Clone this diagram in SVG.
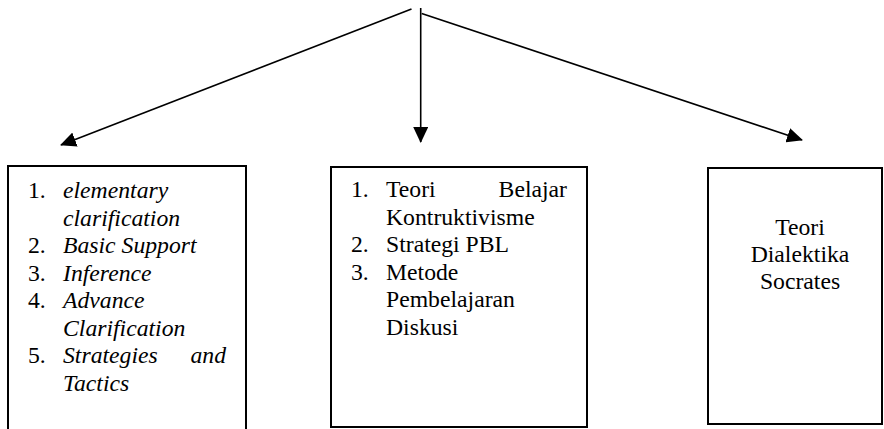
<svg xmlns="http://www.w3.org/2000/svg" width="884" height="429" viewBox="0 0 884 429">
<defs>
<style>
.box{fill:#fff;stroke:#000;stroke-width:2}
.ln{stroke:#000;stroke-width:1.6;fill:none}
text{font-family:'Liberation Serif','Times New Roman',Times,serif;font-size:23.7px;fill:#000}
.i{font-style:italic}
.c{text-anchor:middle}
</style>
<marker id="ah" markerUnits="userSpaceOnUse" markerWidth="16" markerHeight="15" refX="15" refY="7.5" orient="auto">
<path d="M0,0 L16,7.5 L0,15 Z" fill="#000"/>
</marker>
</defs>
<rect width="884" height="429" fill="#fff"/>
<g id="connectors">
<line class="ln" x1="411.5" y1="9" x2="61" y2="145" marker-end="url(#ah)"/>
<line class="ln" x1="420.7" y1="8" x2="420.7" y2="142" marker-end="url(#ah)"/>
<line class="ln" x1="421.7" y1="13.5" x2="802" y2="140" marker-end="url(#ah)"/>
</g>
<g id="node-left">
<rect class="box" x="8" y="166" width="238" height="270"/>
<text x="28" y="198">1.</text><text class="i" x="63" y="198">elementary</text>
<text class="i" x="63" y="225.5">clarification</text>
<text x="28" y="253">2.</text><text class="i" x="63" y="253">Basic Support</text>
<text x="28" y="280.5">3.</text><text class="i" x="63" y="280.5">Inference</text>
<text x="28" y="308">4.</text><text class="i" x="63" y="308">Advance</text>
<text class="i" x="63" y="335.5">Clarification</text>
<text x="28" y="363">5.</text><text class="i" x="63" y="363">Strategies</text><text class="i" x="226" y="363" text-anchor="end">and</text>
<text class="i" x="63" y="390.5">Tactics</text>
</g>
<g id="node-middle">
<rect class="box" x="331" y="167" width="256" height="260"/>
<text x="351" y="197">1.</text><text x="386" y="197">Teori</text><text x="567" y="197" text-anchor="end">Belajar</text>
<text x="386" y="224.5">Kontruktivisme</text>
<text x="351" y="252">2.</text><text x="386" y="252">Strategi PBL</text>
<text x="351" y="279.5">3.</text><text x="386" y="279.5">Metode</text>
<text x="386" y="307">Pembelajaran</text>
<text x="386" y="334.5">Diskusi</text>
</g>
<g id="node-right">
<rect class="box" x="708" y="168" width="174" height="256"/>
<text class="c" x="800" y="235">Teori</text>
<text class="c" x="800" y="262">Dialektika</text>
<text class="c" x="800" y="289">Socrates</text>
</g>
</svg>
